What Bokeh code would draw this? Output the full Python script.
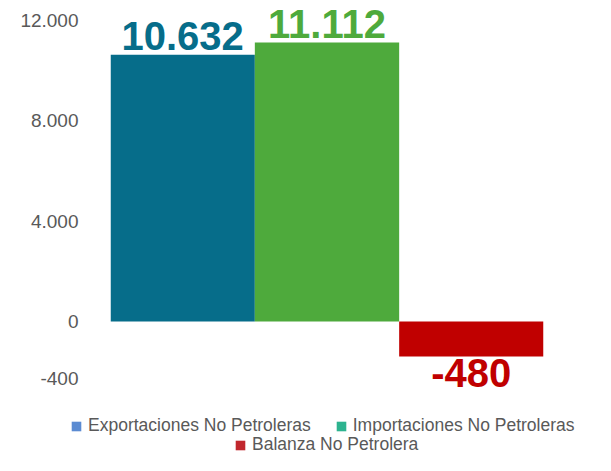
from bokeh.plotting import figure
from bokeh.models import ColumnDataSource, Range1d, FixedTicker, Legend, LegendItem
from bokeh.layouts import column
from bokeh.core.properties import value
from bokeh.embed import file_html
from bokeh.resources import INLINE

# ---- data ----
categories = ["Exportaciones No Petroleras", "Importaciones No Petroleras", "Balanza No Petrolera"]
values = [10632, 11112, -480]
bar_colors = ["#066D8A", "#4EAA3C", "#C00000"]
legend_colors = ["#5B8BD2", "#2DB38F", "#C1272D"]
tick_values = [12000, 8000, 4000, 0, -400]
tick_labels = ["12.000", "8.000", "4.000", "0", "-400"]

# the original chart stretches the negative part of the value axis
NEG_BAR_SCALE = 2.9
NEG_TICK_SCALE = 5.68


def disp(v, k):
    return v if v >= 0 else v * k


xs = list(range(len(values)))
tops = [disp(v, NEG_BAR_SCALE) for v in values]
labels = [f"{v:,}".replace(",", ".") for v in values]
label_offsets = [-18.5 if v >= 0 else 17 for v in values]

FONT = "Liberation Sans"
W = 595
H_MAIN = 405
H_LEG = 50

p = figure(width=W, height=H_MAIN, output_backend="svg", toolbar_location=None,
           x_range=Range1d(-0.5, 2.5), y_range=Range1d(-3347, 12789),
           x_axis_location=None,
           min_border_left=110, min_border_right=52, min_border_top=0, min_border_bottom=0)
p.outline_line_color = None
p.grid.visible = False
p.frame_align = False

bars = ColumnDataSource(dict(x=xs, top=tops, color=bar_colors))
p.vbar(x="x", top="top", bottom=0, width=1.0, fill_color="color", line_color=None, source=bars)

lab = ColumnDataSource(dict(x=xs, y=tops, label=labels, color=bar_colors, yoff=label_offsets))
p.text(x="x", y="y", text="label", text_color="color", y_offset="yoff",
       text_align="center", text_baseline="alphabetic",
       text_font=value(FONT), text_font_style="bold", text_font_size="40px", source=lab)

tick_pos = [int(round(disp(t, NEG_TICK_SCALE))) for t in tick_values]
ax = p.yaxis[0]
ax.ticker = FixedTicker(ticks=tick_pos)
ax.major_label_overrides = {tp: tl for tp, tl in zip(tick_pos, tick_labels)}
ax.axis_line_color = None
ax.major_tick_line_color = None
ax.minor_tick_line_color = None
ax.major_tick_out = 0
ax.major_tick_in = 0
ax.major_label_standoff = 32
ax.major_label_text_font = FONT
ax.major_label_text_font_size = "19px"
ax.major_label_text_color = "#595959"

# ---- legend strip (full-width frame, so the legend is not clipped) ----
q = figure(width=W, height=H_LEG, output_backend="svg", toolbar_location=None,
           x_range=Range1d(10, 11), y_range=Range1d(10, 11),
           x_axis_location=None, y_axis_location=None,
           min_border_left=0, min_border_right=0, min_border_top=0, min_border_bottom=0)
q.outline_line_color = None
q.grid.visible = False
q.frame_align = False

keys = []
for i, c in enumerate(legend_colors):
    r = q.vbar(x=[xs[i]], top=[tops[i]], width=0.5, fill_color=c, line_color=None)
    r.visible = False
    keys.append(r)

leg1 = Legend(items=[LegendItem(label=categories[0], renderers=[keys[0]]),
                     LegendItem(label=categories[1], renderers=[keys[1]])],
              orientation="horizontal", location=(70, 19))
leg2 = Legend(items=[LegendItem(label=categories[2], renderers=[keys[2]])],
              orientation="horizontal", location=(234, 0))
for lg in (leg1, leg2):
    lg.border_line_color = None
    lg.background_fill_alpha = 0
    lg.inactive_fill_alpha = 0
    lg.padding = 0
    lg.margin = 0
    lg.spacing = 24
    lg.glyph_width = 12
    lg.glyph_height = 12
    lg.label_standoff = 6
    lg.label_height = 18
    lg.label_text_font = FONT
    lg.label_text_font_size = "17.5px"
    lg.label_text_color = "#595959"
    q.add_layout(lg)

layout = column(p, q, spacing=0)
open("out.html", "w").write(file_html(layout, INLINE))
